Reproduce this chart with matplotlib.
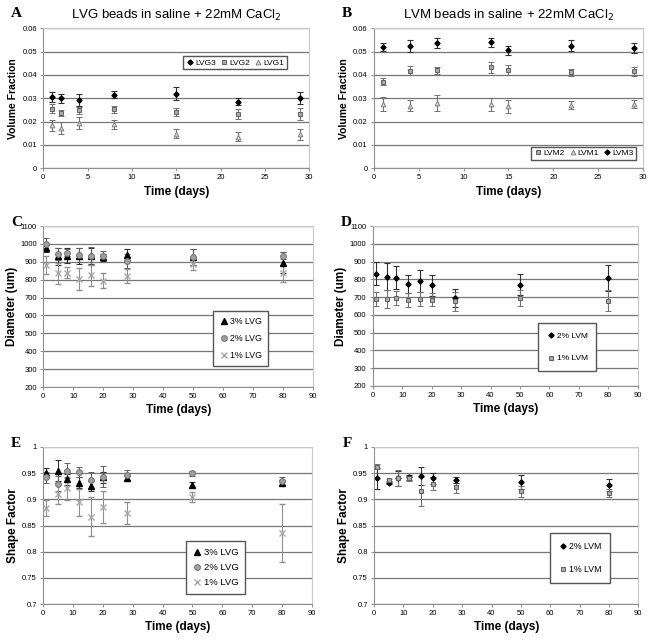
import matplotlib
matplotlib.use('Agg')
import matplotlib.pyplot as plt
from matplotlib.lines import Line2D
from matplotlib.ticker import FuncFormatter

plt.rcParams['font.family'] = ['Liberation Sans', 'DejaVu Sans']

# ---- panel A: LVG volume fraction ----
a_days = [1, 2, 4, 8, 15, 22, 29]
a_lvg3 = [0.0305, 0.0300, 0.0292, 0.0315, 0.0320, 0.0285, 0.0300]
a_lvg3_err = [0.0020, 0.0020, 0.0025, 0.0015, 0.0028, 0.0015, 0.0027]
a_lvg2 = [0.0255, 0.0238, 0.0248, 0.0253, 0.0242, 0.0232, 0.0232]
a_lvg2_err = [0.0018, 0.0013, 0.0015, 0.0015, 0.0018, 0.0020, 0.0025]
a_lvg1 = [0.0183, 0.0172, 0.0193, 0.0188, 0.0148, 0.0135, 0.0145]
a_lvg1_err = [0.0022, 0.0025, 0.0025, 0.0020, 0.0020, 0.0020, 0.0023]

# ---- panel B: LVM volume fraction ----
b_days = [1, 4, 7, 13, 15, 22, 29]
b_lvm3 = [0.0520, 0.0525, 0.0537, 0.0540, 0.0505, 0.0525, 0.0515]
b_lvm3_err = [0.0017, 0.0025, 0.0023, 0.0020, 0.0020, 0.0023, 0.0020]
b_lvm2 = [0.0370, 0.0418, 0.0420, 0.0432, 0.0420, 0.0412, 0.0415]
b_lvm2_err = [0.0015, 0.0020, 0.0015, 0.0022, 0.0022, 0.0015, 0.0020]
b_lvm1 = [0.0277, 0.0268, 0.0280, 0.0273, 0.0265, 0.0272, 0.0275]
b_lvm1_err = [0.0030, 0.0025, 0.0033, 0.0030, 0.0028, 0.0017, 0.0017]

# ---- panels C-F share the same days ----
days = [1, 5, 8, 12, 16, 20, 28, 50, 80]

c_3 = [975, 930, 935, 935, 935, 925, 940, 925, 895]
c_3_err = [20, 45, 40, 45, 45, 20, 30, 45, 60]
c_2 = [1000, 945, 950, 940, 935, 935, 905, 925, 935]
c_2_err = [35, 35, 20, 40, 50, 25, 40, 45, 20]
c_1 = [880, 835, 840, 805, 825, 795, 820, 890, 835]
c_1_err = [50, 60, 30, 60, 60, 40, 40, 35, 50]

d_2 = [830, 815, 808, 775, 790, 765, 695, 770, 808]
d_2_err = [65, 75, 65, 50, 60, 60, 50, 60, 75]
d_1 = [690, 690, 695, 685, 690, 685, 675, 695, 680]
d_1_err = [40, 50, 40, 40, 40, 35, 55, 45, 60]

e_3 = [0.950, 0.955, 0.938, 0.932, 0.925, 0.942, 0.940, 0.928, 0.932]
e_3_err = [0.010, 0.020, 0.010, 0.010, 0.010, 0.010, 0.005, 0.005, 0.005]
e_2 = [0.942, 0.930, 0.955, 0.952, 0.936, 0.943, 0.946, 0.950, 0.935]
e_2_err = [0.010, 0.015, 0.015, 0.010, 0.017, 0.020, 0.010, 0.005, 0.008]
e_1 = [0.884, 0.911, 0.921, 0.894, 0.867, 0.885, 0.873, 0.904, 0.836]
e_1_err = [0.015, 0.020, 0.022, 0.025, 0.037, 0.030, 0.021, 0.010, 0.055]

f_2 = [0.940, 0.932, 0.940, 0.942, 0.945, 0.940, 0.937, 0.933, 0.927]
f_2_err = [0.020, 0.003, 0.015, 0.005, 0.017, 0.010, 0.005, 0.013, 0.012]
f_1 = [0.962, 0.936, 0.941, 0.940, 0.915, 0.930, 0.924, 0.915, 0.912]
f_1_err = [0.005, 0.003, 0.015, 0.005, 0.027, 0.012, 0.012, 0.010, 0.007]

fig = plt.figure(figsize=(6.54, 6.44), dpi=100)

ax_a = fig.add_axes([0.066, 0.739, 0.407, 0.217])
ax_b = fig.add_axes([0.572, 0.739, 0.411, 0.217])
ax_c = fig.add_axes([0.066, 0.399, 0.413, 0.250])
ax_d = fig.add_axes([0.570, 0.401, 0.405, 0.248])
ax_e = fig.add_axes([0.066, 0.062, 0.411, 0.244])
ax_f = fig.add_axes([0.572, 0.062, 0.404, 0.244])

styles = {
    'diamond': dict(marker='D', ms=2.6, mfc='black', mec='black'),
    'square': dict(marker='s', ms=3.4, mfc='#a8a8a8', mec='#606060', mew=0.7),
    'tri_lt': dict(marker='^', ms=3.4, mfc='#d8d8d8', mec='#808080', mew=0.7),
    'tri_blk': dict(marker='^', ms=4, mfc='black', mec='black'),
    'circle': dict(marker='o', ms=4.2, mfc='#a0a0a0', mec='#707070', mew=0.7),
    'cross': dict(marker='x', ms=4, mfc='none', mec='#a8a8a8', mew=1.0),
}


def series(ax, x, y, err, style, ecol='#303030'):
    ax.errorbar(x, y, yerr=err, ls='none', ecolor=ecol, elinewidth=0.8,
                capsize=2, capthick=0.8, **styles[style])


def handle(style, label):
    return Line2D([], [], ls='none', label=label, **styles[style])


def style_axes(ax, xmax, xstep, ymin, ymax, ystep, fmt):
    ax.set_xlim(0, xmax)
    ax.set_ylim(ymin, ymax)
    ax.set_xticks(range(0, xmax + 1, xstep))
    yt = []
    v = ymin
    while v <= ymax + ystep * 0.01:
        yt.append(round(v, 4))
        v += ystep
    ax.set_yticks(yt)
    ax.yaxis.set_major_formatter(FuncFormatter(lambda v, p: fmt(v)))
    ax.grid(axis='y', color='#777777', lw=0.9)
    ax.set_axisbelow(True)
    for s in ['top', 'right']:
        ax.spines[s].set_color('#c8c8c8')
    for s in ['left', 'bottom']:
        ax.spines[s].set_color('#909090')
    ax.tick_params(labelsize=5.5, length=2.5, width=0.6, color='#808080', pad=2)
    ax.set_xlabel('Time (days)', fontsize=8.5, fontweight='bold', labelpad=3)


def fmt_g(v):
    return ('%.2f' % v).rstrip('0').rstrip('.') if v != 0 else '0'


def fmt_int(v):
    return '%d' % v


def letter(ax, s, y):
    ax.text(-0.12, y, s, transform=ax.transAxes, fontsize=11,
            fontweight='bold', family='Liberation Serif')


row_kw = dict(fontsize=6, handletextpad=0.1, columnspacing=0.5, borderpad=0.3,
              handlelength=1, fancybox=False, edgecolor='#555555', framealpha=1)

# A
series(ax_a, a_days, a_lvg3, a_lvg3_err, 'diamond')
series(ax_a, a_days, a_lvg2, a_lvg2_err, 'square', '#707070')
series(ax_a, a_days, a_lvg1, a_lvg1_err, 'tri_lt', '#707070')
style_axes(ax_a, 30, 5, 0, 0.06, 0.01, fmt_g)
ax_a.set_ylabel('Volume Fraction', fontsize=7.5, fontweight='bold', labelpad=3)
ax_a.set_title('LVG beads in saline + 22mM CaCl$_2$', fontsize=9.5, pad=7)
ax_a.legend(handles=[handle('diamond', 'LVG3'), handle('square', 'LVG2'),
                     handle('tri_lt', 'LVG1')],
            ncol=3, loc='upper right', bbox_to_anchor=(0.93, 0.83), **row_kw)
letter(ax_a, 'A', 1.08)

# B
series(ax_b, b_days, b_lvm2, b_lvm2_err, 'square', '#707070')
series(ax_b, b_days, b_lvm1, b_lvm1_err, 'tri_lt', '#707070')
series(ax_b, b_days, b_lvm3, b_lvm3_err, 'diamond')
style_axes(ax_b, 30, 5, 0, 0.06, 0.01, fmt_g)
ax_b.set_ylabel('Volume Fraction', fontsize=7.5, fontweight='bold', labelpad=3)
ax_b.set_title('LVM beads in saline + 22mM CaCl$_2$', fontsize=9.5, pad=7)
ax_b.legend(handles=[handle('square', 'LVM2'), handle('tri_lt', 'LVM1'),
                     handle('diamond', 'LVM3')],
            ncol=3, loc='lower right', bbox_to_anchor=(0.99, 0.03), **row_kw)
letter(ax_b, 'B', 1.08)

box_kw = dict(fancybox=False, edgecolor='#555555', framealpha=1,
              handletextpad=0.2, handlelength=1, loc='upper left',
              borderaxespad=0)

# C
series(ax_c, days, c_3, c_3_err, 'tri_blk')
series(ax_c, days, c_2, c_2_err, 'circle', '#606060')
series(ax_c, days, c_1, c_1_err, 'cross', '#909090')
style_axes(ax_c, 90, 10, 200, 1100, 100, fmt_int)
ax_c.set_ylabel('Diameter (um)', fontsize=8.5, fontweight='bold', labelpad=2)
ax_c.legend(handles=[handle('tri_blk', '3% LVG'), handle('circle', '2% LVG'),
                     handle('cross', '1% LVG')],
            bbox_to_anchor=(0.63, 0.47), labelspacing=0.9, borderpad=0.7,
            fontsize=6.3, **box_kw)
letter(ax_c, 'C', 1.0)

# D
series(ax_d, days, d_2, d_2_err, 'diamond')
series(ax_d, days, d_1, d_1_err, 'square', '#707070')
style_axes(ax_d, 90, 10, 200, 1100, 100, fmt_int)
ax_d.set_ylabel('Diameter (um)', fontsize=8.5, fontweight='bold', labelpad=2)
ax_d.legend(handles=[handle('diamond', '2% LVM'), handle('square', '1% LVM')],
            bbox_to_anchor=(0.625, 0.39), labelspacing=1.8, borderpad=1.0,
            fontsize=6, **box_kw)
letter(ax_d, 'D', 1.0)

# E
series(ax_e, days, e_3, e_3_err, 'tri_blk')
series(ax_e, days, e_2, e_2_err, 'circle', '#606060')
series(ax_e, days, e_1, e_1_err, 'cross', '#909090')
style_axes(ax_e, 90, 10, 0.7, 1.0, 0.05, fmt_g)
ax_e.set_ylabel('Shape Factor', fontsize=8.5, fontweight='bold', labelpad=2)
ax_e.legend(handles=[handle('tri_blk', '3% LVG'), handle('circle', '2% LVG'),
                     handle('cross', '1% LVG')],
            bbox_to_anchor=(0.53, 0.40), labelspacing=0.65, borderpad=0.7,
            fontsize=6.8, **box_kw)
letter(ax_e, 'E', 1.0)

# F
series(ax_f, days, f_2, f_2_err, 'diamond')
series(ax_f, days, f_1, f_1_err, 'square', '#707070')
style_axes(ax_f, 90, 10, 0.7, 1.0, 0.05, fmt_g)
ax_f.set_ylabel('Shape Factor', fontsize=8.5, fontweight='bold', labelpad=2)
ax_f.legend(handles=[handle('diamond', '2% LVM'), handle('square', '1% LVM')],
            bbox_to_anchor=(0.665, 0.45), labelspacing=1.6, borderpad=1.0,
            fontsize=6.3, **box_kw)
letter(ax_f, 'F', 1.0)

fig.savefig('out.png', dpi=100, facecolor='white')
